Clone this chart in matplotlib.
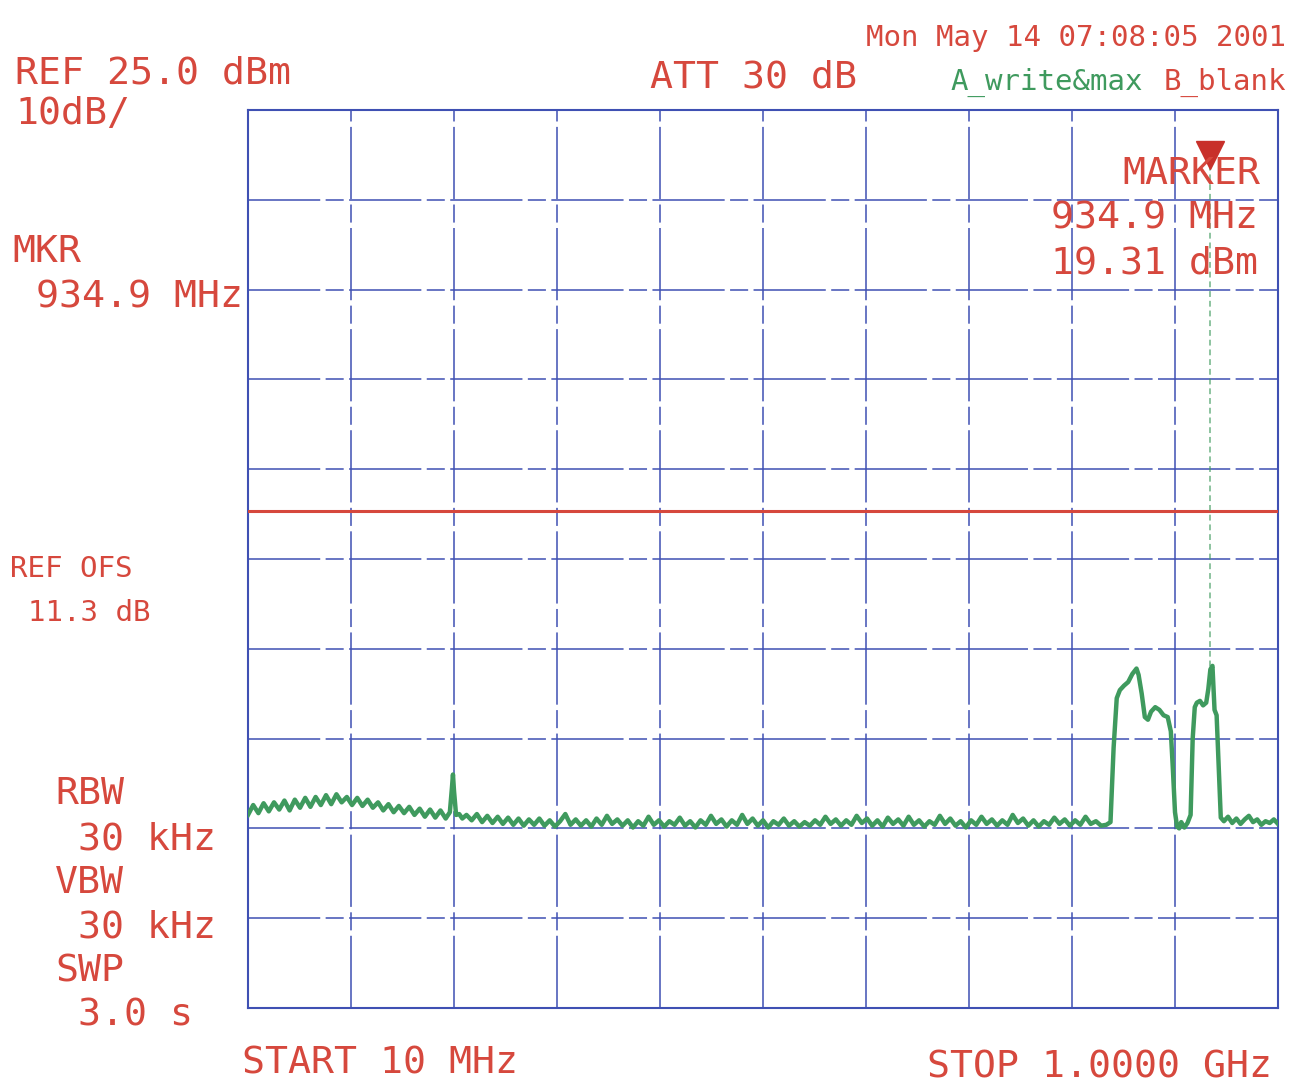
import matplotlib
matplotlib.use("Agg")
import matplotlib.pyplot as plt

# sweep settings
f_start = 10.0      # MHz
f_stop = 1000.0     # MHz
ref_level = 25.0    # dBm
db_per_div = 10.0
display_line = -19.7
marker_freq = 934.9
marker_top = 20.0
marker_level = -37.0

# trace A (write & max), rows kept aligned
freq_mhz = [
    10, 15, 20, 25, 30, 35, 40, 45, 50, 55,
    60, 65, 70, 75, 80, 85, 90, 95, 100, 105,
    110, 115, 120, 125, 130, 135, 140, 145, 150, 155,
    160, 165, 170, 175, 180, 185, 190, 195, 200, 204,
    206, 207, 208, 210, 213, 216, 220, 225, 230, 235,
    240, 245, 250, 255, 260, 265, 270, 275, 280, 285,
    290, 295, 300, 305, 310, 315, 320, 325, 330, 335,
    340, 345, 350, 355, 360, 365, 370, 375, 380, 385,
    390, 395, 400, 405, 410, 415, 420, 425, 430, 435,
    440, 445, 450, 455, 460, 465, 470, 475, 480, 485,
    490, 495, 500, 505, 510, 515, 520, 525, 530, 535,
    540, 545, 550, 555, 560, 565, 570, 575, 580, 585,
    590, 595, 600, 605, 610, 615, 620, 625, 630, 635,
    640, 645, 650, 655, 660, 665, 670, 675, 680, 685,
    690, 695, 700, 705, 710, 715, 720, 725, 730, 735,
    740, 745, 750, 755, 760, 765, 770, 775, 780, 785,
    790, 795, 800, 805, 810, 815, 820, 825, 830, 835,
    839, 842, 845, 848, 852, 856, 860, 864,
    866, 869, 872, 875, 878, 882, 886, 890,
    894, 897, 899, 901, 903, 905, 907, 910,
    913, 916, 918, 920, 922, 925, 928, 931,
    933, 935, 937, 939, 941, 943, 945, 948,
    952, 956, 960, 964, 968, 972, 976, 980,
    984, 988, 992, 996, 1000,
]
level_dbm = [
    -53.5, -52.4, -53.3, -52.2, -53.1, -52.1, -52.9, -51.9, -53.0, -51.8,
    -52.7, -51.6, -52.6, -51.5, -52.4, -51.3, -52.3, -51.2, -52.1, -51.5,
    -52.4, -51.6, -52.5, -51.8, -52.7, -52.1, -53.0, -52.3, -53.2, -52.5,
    -53.3, -52.6, -53.5, -52.8, -53.7, -52.9, -53.8, -53.0, -53.9, -53.2,
    -50.5, -49.0, -50.8, -53.5, -53.4, -53.9, -53.5, -54.1, -53.4, -54.3,
    -53.6, -54.4, -53.7, -54.5, -53.8, -54.6, -53.9, -54.7, -54.0, -54.6,
    -53.9, -54.7, -54.1, -54.8, -54.2, -53.4, -54.6, -54.0, -54.7, -54.1,
    -54.8, -53.9, -54.6, -53.6, -54.5, -54.0, -54.7, -54.1, -54.9, -54.2,
    -54.7, -53.7, -54.6, -54.1, -54.8, -54.2, -54.6, -53.8, -54.7, -54.2,
    -54.9, -54.1, -54.6, -53.6, -54.5, -54.0, -54.8, -54.1, -54.6, -53.5,
    -54.5, -53.9, -54.7, -54.1, -54.9, -54.2, -54.6, -53.9, -54.7, -54.2,
    -54.8, -54.3, -54.7, -54.1, -54.6, -53.7, -54.5, -54.0, -54.7, -54.1,
    -54.6, -53.6, -54.4, -53.9, -54.7, -54.1, -54.8, -53.8, -54.5, -54.0,
    -54.7, -53.7, -54.6, -54.1, -54.8, -54.2, -54.6, -53.6, -54.5, -53.9,
    -54.7, -54.2, -54.9, -54.1, -54.6, -53.7, -54.5, -54.0, -54.7, -54.1,
    -54.6, -53.5, -54.4, -53.9, -54.7, -54.1, -54.8, -54.2, -54.6, -53.8,
    -54.5, -54.0, -54.7, -54.1, -54.6, -53.7, -54.5, -54.2, -54.7, -54.6,
    -54.3, -46.0, -40.5, -39.6, -39.1, -38.7, -37.8, -37.2,
    -37.9, -40.0, -42.6, -42.9, -42.0, -41.5, -41.8, -42.4,
    -42.6, -44.2, -48.5, -53.2, -54.8, -55.0, -54.3, -54.9,
    -54.4, -53.5, -45.0, -41.5, -41.0, -40.8, -41.3, -41.0,
    -39.5, -37.3, -36.9, -41.8, -42.4, -48.0, -53.8, -54.2,
    -53.7, -54.4, -53.9, -54.5, -54.0, -53.6, -54.3, -54.0,
    -54.6, -54.2, -54.4, -54.0, -54.5,
]

red = "#d6483d"
green = "#3f9a5e"
blue = "#3f50b3"
mono = ["DejaVu Sans Mono"]

W, H = 1295, 1089
fig = plt.figure(figsize=(W / 100, H / 100), dpi=100)
fig.patch.set_facecolor("white")

# plot area in pixels of the screen
x0, x1, y0, y1 = 248, 1278, 110, 1008
ax = fig.add_axes([x0 / W, 1 - y1 / H, (x1 - x0) / W, (y1 - y0) / H])
ax.set_xlim(f_start, f_stop)
ax.set_ylim(ref_level - 10 * db_per_div, ref_level)
xt = [f_start + i * (f_stop - f_start) / 10 for i in range(11)]
yt = [ref_level - i * db_per_div for i in range(11)]
ax.set_xticks(xt)
ax.set_yticks(yt)
ax.tick_params(length=0, labelbottom=False, labelleft=False)
ax.grid(True, color=blue, linewidth=1.3, linestyle=(0, (40, 3, 10, 3)), alpha=0.85)
for s in ax.spines.values():
    s.set_color(blue)
    s.set_linewidth(1.5)

# display line
ax.axhline(display_line, color=red, linewidth=2.2, zorder=3)

# trace
ax.plot(freq_mhz, level_dbm, color=green, linewidth=3.2, zorder=4)

# marker
ax.plot([marker_freq, marker_freq], [marker_top, marker_level], color=green,
        linewidth=1.4, linestyle=(0, (3, 2)), alpha=0.6, zorder=3)
ax.plot([marker_freq], [marker_top], marker="v", markersize=20, color="#c8302a",
        zorder=5, clip_on=False)


def txt(x, y, s, size=27.5, color=red, ha="left"):
    # x, y: left (or right) edge and baseline in screen pixels
    fig.text(x / W, 1 - y / H, s, fontsize=size, color=color, ha=ha,
             va="baseline", family=mono)


big = 27.5
small = 21
txt(15, 84, "REF 25.0 dBm", big)
txt(15, 124, "10dB/", big)
txt(650, 88, "ATT 30 dB", big)
txt(1286, 46, "Mon May 14 07:08:05 2001", small, ha="right")
txt(950, 90, "A_write&max", small, color=green)
txt(1286, 90, "B_blank", small, ha="right")
txt(1260, 184, "MARKER", big, ha="right")
txt(1258, 229, "934.9 MHz", big, ha="right")
txt(1258, 274, "19.31 dBm", big, ha="right")
txt(12, 262, "MKR", big)
txt(243, 308, "934.9 MHz", big, ha="right")
txt(10, 577, "REF OFS", small)
txt(28, 621, "11.3 dB", small)
txt(55, 804, "RBW", big)
txt(78, 849, "30 kHz", big)
txt(55, 893, "VBW", big)
txt(78, 937, "30 kHz", big)
txt(55, 982, "SWP", big)
txt(78, 1026, "3.0 s", big)
txt(242, 1074, "START 10 MHz", big)
txt(1272, 1078, "STOP 1.0000 GHz", big, ha="right")

fig.savefig("out.png", dpi=100, facecolor="white")
